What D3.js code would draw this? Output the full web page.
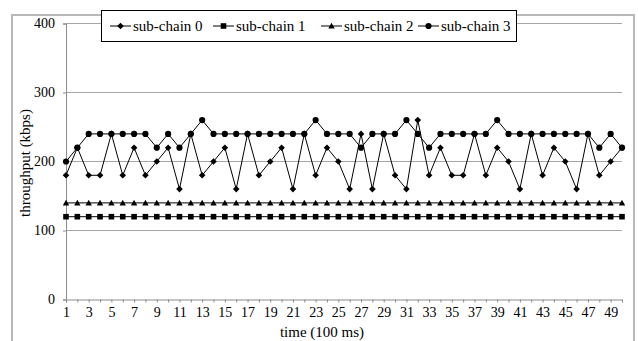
<!DOCTYPE html>
<html>
<head>
<meta charset="utf-8">
<script src="https://cdn.jsdelivr.net/npm/d3@7"></script>
<style>
  body { margin: 0; background: #fff; }
  svg { display: block; }
  svg text { font-family: "Liberation Serif", Tinos, "Times New Roman", "DejaVu Serif", serif; }
</style>
</head>
<body>
<svg id="chart" width="638" height="341"></svg>
<script>
// time steps (100 ms each)
const steps = d3.range(1, 51);
const seriesNames = ["sub-chain 0", "sub-chain 1", "sub-chain 2", "sub-chain 3"];
const chain0 = [180, 220, 180, 180, 240, 180, 220, 180, 200, 220,
                160, 240, 180, 200, 220, 160, 240, 180, 200, 220,
                160, 240, 180, 220, 200, 160, 240, 160, 240, 180,
                160, 260, 180, 220, 180, 180, 240, 180, 220, 200,
                160, 240, 180, 220, 200, 160, 240, 180, 200, 220];
const chain1 = [120, 120, 120, 120, 120, 120, 120, 120, 120, 120,
                120, 120, 120, 120, 120, 120, 120, 120, 120, 120,
                120, 120, 120, 120, 120, 120, 120, 120, 120, 120,
                120, 120, 120, 120, 120, 120, 120, 120, 120, 120,
                120, 120, 120, 120, 120, 120, 120, 120, 120, 120];
const chain2 = [140, 140, 140, 140, 140, 140, 140, 140, 140, 140,
                140, 140, 140, 140, 140, 140, 140, 140, 140, 140,
                140, 140, 140, 140, 140, 140, 140, 140, 140, 140,
                140, 140, 140, 140, 140, 140, 140, 140, 140, 140,
                140, 140, 140, 140, 140, 140, 140, 140, 140, 140];
const chain3 = [200, 220, 240, 240, 240, 240, 240, 240, 220, 240,
                220, 240, 260, 240, 240, 240, 240, 240, 240, 240,
                240, 240, 260, 240, 240, 240, 220, 240, 240, 240,
                260, 240, 220, 240, 240, 240, 240, 240, 260, 240,
                240, 240, 240, 240, 240, 240, 240, 220, 240, 220];
const yTicks = [0, 100, 200, 300, 400];

const seriesData = [chain0, chain1, chain2, chain3];

// small excel-like markers, size = half width in px
const diamond = { draw(c, s) { c.moveTo(0, -s); c.lineTo(s, 0); c.lineTo(0, s); c.lineTo(-s, 0); c.closePath(); } };
const square = { draw(c, s) { c.rect(-s, -s, 2 * s, 2 * s); } };
const triangle = { draw(c, s) { c.moveTo(0, -s); c.lineTo(s, s * 0.8); c.lineTo(-s, s * 0.8); c.closePath(); } };
const circle = { draw(c, s) { c.moveTo(s, 0); c.arc(0, 0, s, 0, 2 * Math.PI); } };
const markerTypes = [diamond, square, triangle, circle];
const markerSizes = [3.3, 2.8, 3.2, 3.1];
const marker = k => d3.symbol().type(markerTypes[k]).size(markerSizes[k])();

const svg = d3.select("#chart");

// outer chart frame (bottom edge falls outside the picture)
svg.append("rect")
    .attr("x", 12).attr("y", 15)
    .attr("width", 622).attr("height", 340)
    .attr("fill", "none")
    .attr("stroke", "#b8b8b8")
    .attr("stroke-width", 2);

const x = d3.scalePoint().domain(steps).range([66, 622]);
const y = d3.scaleLinear().domain([0, 400]).range([299.5, 23.5]);

// horizontal grid lines
svg.append("g")
    .selectAll("line")
    .data(yTicks.filter(d => d > 0))
    .join("line")
    .attr("x1", 66).attr("x2", 622)
    .attr("y1", d => y(d)).attr("y2", d => y(d))
    .attr("stroke", "#a6a6a6")
    .attr("stroke-width", 1);

// y axis
const yAxis = svg.append("g")
    .attr("transform", "translate(66,0)")
    .call(d3.axisLeft(y).tickValues(yTicks).tickSize(3).tickPadding(8));
yAxis.attr("font-family", null);
yAxis.select(".domain").attr("stroke", "#8c8c8c");
yAxis.selectAll(".tick line").attr("stroke", "#8c8c8c");
yAxis.selectAll("text")
    .attr("font-size", 14)
    .attr("fill", "#000");

// x axis
const xAxis = svg.append("g")
    .attr("transform", `translate(0,${y(0)})`)
    .call(d3.axisBottom(x).tickSize(3).tickPadding(5)
        .tickFormat(d => (d % 2 === 1 ? d : "")));
xAxis.attr("font-family", null);
xAxis.select(".domain").attr("stroke", "#8c8c8c");
xAxis.selectAll(".tick line").attr("stroke", "#8c8c8c");
xAxis.selectAll("text")
    .attr("font-size", 14)
    .attr("fill", "#000");

// axis titles
svg.append("text")
    .attr("x", 322).attr("y", 337)
    .attr("text-anchor", "middle")
    .attr("font-size", 15)
    .text("time (100 ms)");

svg.append("text")
    .attr("transform", "translate(30,163) rotate(-90)")
    .attr("text-anchor", "middle")
    .attr("font-size", 15)
    .text("throughput (kbps)");

// series
const line = d3.line()
    .x((d, i) => x(steps[i]))
    .y(d => y(d));

seriesData.forEach((vals, k) => {
    const g = svg.append("g");
    g.append("path")
        .datum(vals)
        .attr("d", line)
        .attr("fill", "none")
        .attr("stroke", "#000")
        .attr("stroke-width", 1);
    g.selectAll("path.mk")
        .data(vals)
        .join("path")
        .attr("class", "mk")
        .attr("transform", (d, i) => `translate(${x(steps[i])},${y(d)})`)
        .attr("d", marker(k))
        .attr("fill", "#000");
});

// legend
const legend = svg.append("g");
legend.append("rect")
    .attr("x", 101.5).attr("y", 10.5)
    .attr("width", 415).attr("height", 31)
    .attr("fill", "#fff")
    .attr("stroke", "#000")
    .attr("stroke-width", 1);

const legendX = [110, 213, 321, 418];
seriesNames.forEach((name, k) => {
    const item = legend.append("g").attr("transform", `translate(${legendX[k]},26)`);
    item.append("line")
        .attr("x1", 0).attr("x2", 21)
        .attr("stroke", "#000");
    item.append("path")
        .attr("transform", "translate(10.5,0)")
        .attr("d", marker(k))
        .attr("fill", "#000");
    item.append("text")
        .attr("x", 23).attr("y", 5)
        .attr("font-size", 15)
        .text(name);
});
</script>
</body>
</html>
